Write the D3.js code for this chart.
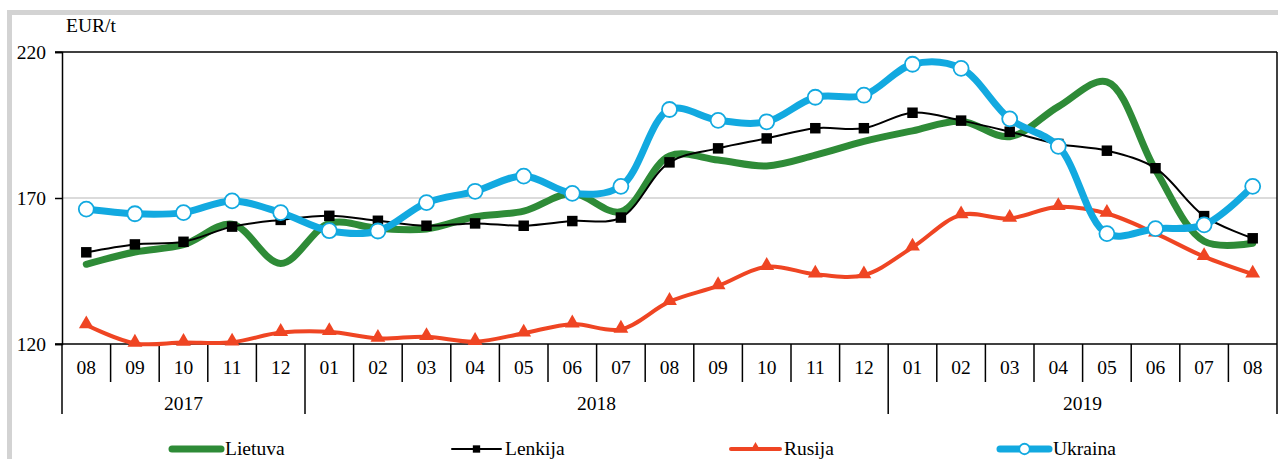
<!DOCTYPE html>
<html>
<head>
<meta charset="utf-8">
<script src="https://cdn.jsdelivr.net/npm/d3@7"></script>
<style>
  body { margin: 0; background: #fff; }
</style>
</head>
<body>
<div id="chart_box"></div>
<script>
// months Aug 2017 .. Aug 2019
var months = ["08","09","10","11","12","01","02","03","04","05","06","07","08","09","10","11","12","01","02","03","04","05","06","07","08"];
var years = [
  {label: "2017", from: 0, to: 5},
  {label: "2018", from: 5, to: 17},
  {label: "2019", from: 17, to: 25}
];
var yTicks = [120, 170, 220];

var lietuva = [147.3, 151.5, 154.0, 161.0, 147.6, 161.3, 159.6, 159.4, 163.6, 165.5, 171.6, 165.3, 184.4, 183.0, 181.0, 184.7, 189.4, 193.0, 196.3, 191.0, 201.3, 209.8, 179.6, 155.2, 154.5];
var lenkija = [151.4, 154.1, 155.0, 160.2, 162.5, 163.9, 162.2, 160.5, 161.3, 160.5, 162.1, 163.3, 182.2, 187.0, 190.4, 193.9, 193.9, 199.2, 196.5, 192.7, 188.5, 186.2, 180.2, 163.8, 156.2];
var rusija = [126.5, 120.2, 120.5, 120.6, 123.9, 124.2, 121.9, 122.5, 120.8, 123.7, 126.8, 125.0, 134.5, 139.9, 146.5, 143.9, 143.6, 153.1, 164.2, 163.0, 167.0, 164.7, 157.9, 149.9, 143.9];
var ukraina = [166.2, 164.6, 165.0, 169.0, 165.0, 158.8, 158.7, 168.4, 172.3, 177.5, 171.6, 174.0, 200.3, 196.6, 196.1, 204.5, 205.2, 215.8, 214.4, 197.1, 187.7, 157.8, 159.5, 160.8, 174.0];

var series = [
  {name: "Lietuva", values: lietuva, color: "#2e8b37", width: 7, marker: "none"},
  {name: "Lenkija", values: lenkija, color: "#000000", width: 2, marker: "square"},
  {name: "Rusija", values: rusija, color: "#ef4523", width: 4, marker: "triangle"},
  {name: "Ukraina", values: ukraina, color: "#12a9e0", width: 7, marker: "circle"}
];

var FONT = "'Liberation Serif', 'Times New Roman', Times, serif";
var FS = "19.5px";
var W = 1278, H = 459;
var margin = {top: 52, right: 1, bottom: 115, left: 62};
var width = W - margin.left - margin.right;
var height = H - margin.top - margin.bottom;

var svg = d3.select("#chart_box").append("svg")
    .attr("width", W)
    .attr("height", H)
    .attr("font-family", FONT);

// outer grey frame of the chart object
svg.append("rect")
    .attr("x", 9.5).attr("y", 12.5)
    .attr("width", W + 20).attr("height", H + 20)
    .attr("fill", "none")
    .attr("stroke", "#d3d3d3")
    .attr("stroke-width", 5);

var g = svg.append("g").attr("transform", "translate(" + margin.left + "," + margin.top + ")");

var x = d3.scaleBand().domain(d3.range(months.length)).range([0, width]).paddingInner(0).paddingOuter(0);
var y = d3.scaleLinear().domain([120, 220]).range([height, 0]);
var cx = function(i) { return x(i) + x.bandwidth() / 2; };

function txt(sel) {
  return sel.attr("font-family", FONT).style("font-family", FONT).style("font-size", FS).attr("fill", "#000");
}

// gridline at middle tick
g.selectAll(".grid").data(yTicks.slice(1, -1)).enter().append("line")
    .attr("x1", 0).attr("x2", width)
    .attr("y1", function(d) { return y(d); }).attr("y2", function(d) { return y(d); })
    .attr("stroke", "#cfcfcf").attr("stroke-width", 1.5);

// plot border top and right
g.append("line").attr("x1", -7).attr("x2", width).attr("y1", 0).attr("y2", 0).attr("stroke", "#000").attr("stroke-width", 1.5);
g.append("line").attr("x1", width).attr("x2", width).attr("y1", 0).attr("y2", height).attr("stroke", "#000").attr("stroke-width", 1.5);

// y axis
var yAxis = g.append("g").call(d3.axisLeft(y).tickValues(yTicks).tickSize(7).tickPadding(9));
yAxis.attr("font-family", FONT);
yAxis.select(".domain").attr("stroke-width", 1.5);
yAxis.selectAll(".tick line").attr("stroke-width", 1.5);
txt(yAxis.selectAll("text"));

txt(g.append("text").attr("x", 4).attr("y", -20).text("EUR/t"));

// x axis: month labels with separators
g.append("line").attr("x1", -7).attr("x2", width).attr("y1", height).attr("y2", height).attr("stroke", "#000").attr("stroke-width", 1.5);

var bounds = d3.range(months.length + 1).map(function(i) { return i < months.length ? x(i) : width; });
var yearBounds = [0].concat(years.map(function(d) { return d.to; }));
g.selectAll(".msep").data(bounds).enter().append("line")
    .attr("x1", function(d) { return d; }).attr("x2", function(d) { return d; })
    .attr("y1", height)
    .attr("y2", function(d, i) { return yearBounds.indexOf(i) >= 0 ? height + 70 : height + 38; })
    .attr("stroke", "#000").attr("stroke-width", 1.5);

txt(g.selectAll(".mlab").data(months).enter().append("text")
    .attr("x", function(d, i) { return cx(i); })
    .attr("y", height + 30)
    .attr("text-anchor", "middle")
    .text(function(d) { return d; }));

txt(g.selectAll(".ylab").data(years).enter().append("text")
    .attr("x", function(d) { return ((d.to < months.length ? x(d.to) : width) + x(d.from)) / 2; })
    .attr("y", height + 66)
    .attr("text-anchor", "middle")
    .text(function(d) { return d.label; }));

// lines
var line = d3.line()
    .x(function(d, i) { return cx(i); })
    .y(function(d) { return y(d); })
    .curve(d3.curveCatmullRom.alpha(0.5));

function drawMarkers(sel, s, px, py, k) {
  if (s.marker === "square") {
    sel.append("path").attr("d", d3.symbol().type(d3.symbolSquare).size(110 * k * k))
      .attr("transform", "translate(" + px + "," + py + ")").attr("fill", "#000");
  } else if (s.marker === "triangle") {
    sel.append("path").attr("d", d3.symbol().type(d3.symbolTriangle).size(95 * k * k))
      .attr("transform", "translate(" + px + "," + (py - 1) + ")").attr("fill", s.color);
  } else if (s.marker === "circle") {
    sel.append("circle").attr("cx", px).attr("cy", py).attr("r", 7.5 * k)
      .attr("fill", "#fff").attr("stroke", s.color).attr("stroke-width", 1.8);
  }
}

series.forEach(function(s) {
  var sg = g.append("g").attr("class", "series");
  sg.append("path").datum(s.values)
    .attr("d", line)
    .attr("fill", "none")
    .attr("stroke", s.color)
    .attr("stroke-width", s.width)
    .attr("stroke-linejoin", "round")
    .attr("stroke-linecap", "round");
  s.values.forEach(function(v, i) { drawMarkers(sg, s, cx(i), y(v), 1); });
});

// legend
var legendX = [172, 452, 731, 1000];
var lg = svg.append("g");
series.forEach(function(s, i) {
  var lx = legendX[i], ly = 449;
  var it = lg.append("g");
  it.append("line").attr("x1", lx).attr("x2", lx + 49).attr("y1", ly).attr("y2", ly)
    .attr("stroke", s.color).attr("stroke-width", s.width).attr("stroke-linecap", "round");
  drawMarkers(it, s, lx + 24.5, ly, 0.7);
  txt(it.append("text").attr("x", lx + 53).attr("y", ly + 6).text(s.name));
});
</script>
</body>
</html>
